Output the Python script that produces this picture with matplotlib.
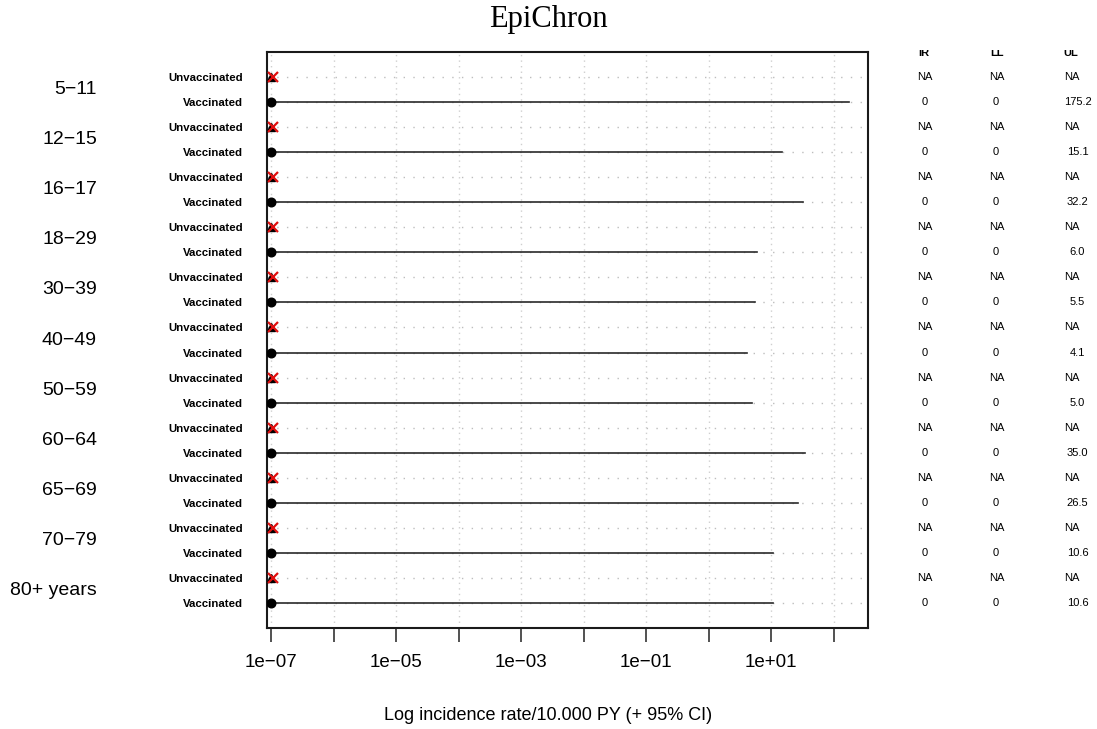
import numpy as np
import matplotlib
matplotlib.use("Agg")
from matplotlib import pyplot as plt
from matplotlib import transforms
from matplotlib.ticker import FixedLocator, NullLocator

# age groups and rate table (per 10.000 PY)
age_groups = ["5\u221211", "12\u221215", "16\u221217", "18\u221229", "30\u221239",
              "40\u221249", "50\u221259", "60\u221264", "65\u221269", "70\u221279",
              "80+ years"]
status = ["Unvaccinated", "Vaccinated"]
ir_vacc = [0, 0, 0, 0, 0, 0, 0, 0, 0, 0, 0]
ll_vacc = [0, 0, 0, 0, 0, 0, 0, 0, 0, 0, 0]
ul_vacc = [175.2, 15.1, 32.2, 6.0, 5.5, 4.1, 5.0, 35.0, 26.5, 10.6, 10.6]
# unvaccinated rows are all NA
ul_labels = ["175.2", "15.1", "32.2", "6.0", "5.5", "4.1", "5.0", "35.0", "26.5", "10.6", "10.6"]

floor = 1e-07  # zero / NA plotted at the left end of the log axis
decades = list(range(-7, 3))
tick_labels = ["1e\u221207", "", "1e\u221205", "", "1e\u221203", "", "1e\u221201", "", "1e+01", ""]

plt.rcParams["font.family"] = ["Liberation Sans", "DejaVu Sans"]

W, H = 1097, 729
fig = plt.figure(figsize=(W / 100, H / 100), dpi=100)
ax = fig.add_axes([267 / W, 1 - 628 / H, 601 / W, 576 / H])

n = len(age_groups)
rows_unvacc = np.arange(n) * 2 + 1
rows_vacc = np.arange(n) * 2 + 2
all_rows = np.arange(1, 2 * n + 1)

ax.set_xscale("log")
ax.set_xlim(10 ** -7.064, 10 ** 2.55)
ax.set_ylim(2 * n + 1, 0)

# dotted guide lines
for r in all_rows:
    ax.axhline(r, color="#bdbdbd", lw=1.0, ls=(0, (1, 6)), zorder=1)
for d in decades:
    ax.axvline(10.0 ** d, color="#cfcfcf", lw=1.0, ls=(0, (1, 3)), zorder=1)

# vaccinated: estimate with upper limit
for r, ir, ul in zip(rows_vacc, ir_vacc, ul_vacc):
    x0 = ir if ir > 0 else floor
    ax.plot([x0, ul], [r, r], color="#2a2a2a", lw=1.2, zorder=3)
    ax.plot(x0, r, "o", color="black", ms=6.2, zorder=4)

# unvaccinated: NA, drawn at the axis floor
ax.plot([floor] * n, rows_unvacc, "^", color="black", ms=6, ls="none", zorder=4)
ax.plot([floor * 1.06] * n, rows_unvacc, "x", color="#e01010", ms=6.5, mew=1.6,
        ls="none", zorder=5)

ax.xaxis.set_major_locator(FixedLocator([10.0 ** d for d in decades]))
ax.xaxis.set_minor_locator(NullLocator())
ax.set_xticklabels(tick_labels, fontsize=13.5)
ax.tick_params(axis="x", length=10, width=1.1, pad=9, color="#222222")

ax.set_yticks(all_rows)
ax.set_yticklabels(status * n, fontsize=8.2, fontweight="bold")
ax.tick_params(axis="y", length=0, pad=17)

for s in ax.spines.values():
    s.set_linewidth(1.5)
    s.set_color("#1a1a1a")

# age group labels
trans = transforms.blended_transform_factory(fig.transFigure, ax.transData)
for k, g in enumerate(age_groups):
    fig.text(97 / W, 2 * k + 1.5, g, transform=trans, ha="right", va="center",
             fontsize=14)

# table on the right
col_ir, col_ll, col_ul = 925 / W, 997 / W, 1071.5 / W
for k in range(n):
    ru, rv = 2 * k + 1, 2 * k + 2
    for cx in (col_ir, col_ll, col_ul):
        fig.text(cx, ru, "NA", transform=trans, ha="center", va="center", fontsize=8)
    fig.text(924.5 / W, rv, str(ir_vacc[k]), transform=trans, ha="center",
             va="center", fontsize=8)
    fig.text(996 / W, rv, str(ll_vacc[k]), transform=trans, ha="center",
             va="center", fontsize=8)
    fig.text(1077.5 / W, rv, ul_labels[k], transform=trans, ha="center",
             va="center", fontsize=8)

# column headers, cut off along the top of the plotting region
clip = transforms.TransformedBbox(
    transforms.Bbox([[0, 0], [1, 1 - 50 / H]]), fig.transFigure)
for cx, h in zip((924 / W, 997 / W, 1071 / W), ("IR", "LL", "UL")):
    t = fig.text(cx, 0.16, h, transform=trans, ha="center", va="baseline",
                 fontsize=8, fontweight="bold")
    t.set_clip_box(clip)
    t.set_clip_on(True)

fig.text(548 / W, 1 - 19 / H, "EpiChron", ha="center", va="center",
         fontsize=22, family=["Liberation Serif", "DejaVu Serif"])
fig.text(548 / W, 1 - 716 / H, "Log incidence rate/10.000 PY (+ 95% CI)",
         ha="center", va="center", fontsize=13)

fig.savefig("out.png", dpi=100)
